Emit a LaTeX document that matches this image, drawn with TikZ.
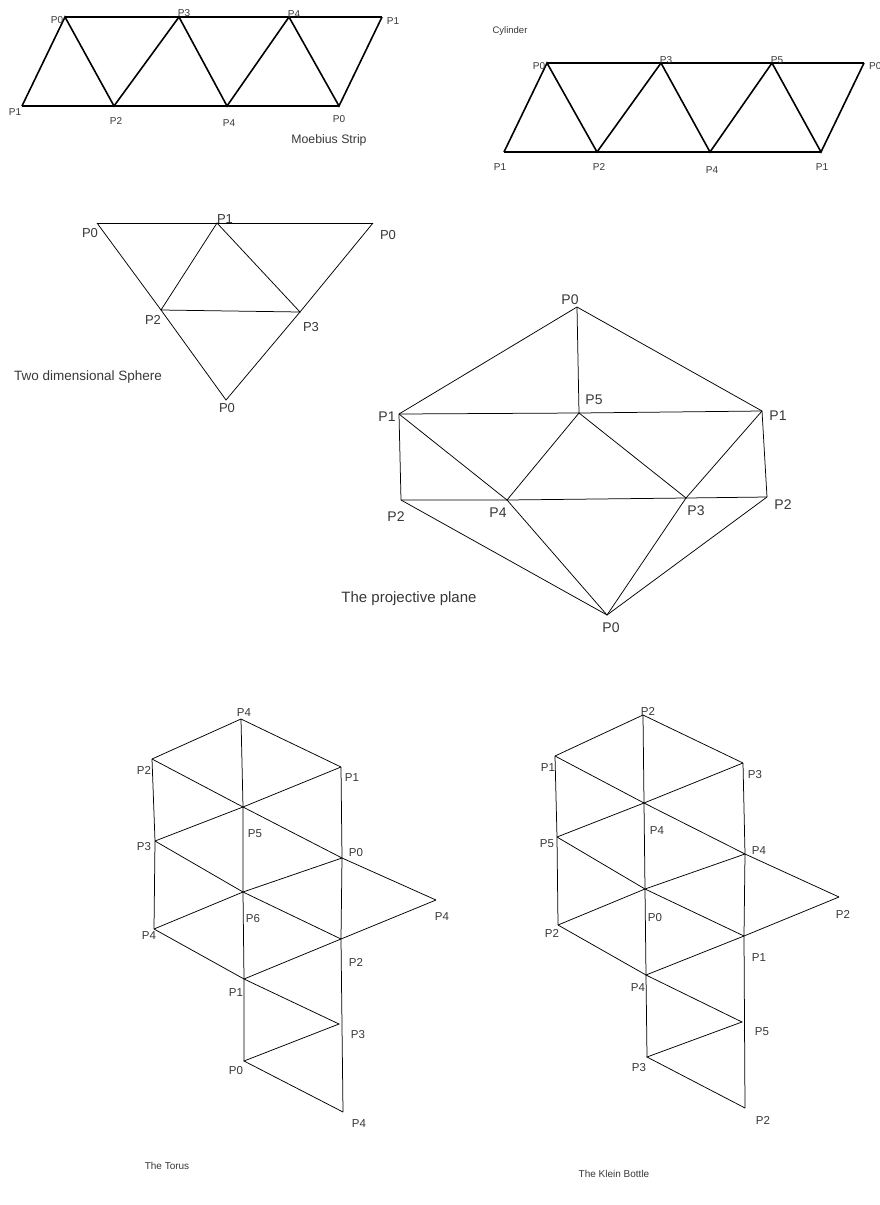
\documentclass[tikz,border=0pt]{standalone}
\usepackage{fontspec}
\setmainfont{Liberation Sans}
\begin{document}
\begin{tikzpicture}[x=1pt,y=-1pt,
  thickedge/.style={line width=1.6pt, line join=miter},
  thinedge/.style={line width=0.75pt},
  lbl/.style={inner sep=0pt, text=black!78},
  fs10/.style={lbl, font=\fontsize{10}{12}\selectfont},
  fs11/.style={lbl, font=\fontsize{11.5}{13}\selectfont},
  fs12/.style={lbl, font=\fontsize{12.3}{14}\selectfont},
  fs13/.style={lbl, font=\fontsize{13}{15}\selectfont},
  fs14/.style={lbl, font=\fontsize{14}{16}\selectfont},
  fs15/.style={lbl, font=\fontsize{15}{17}\selectfont}]
\useasboundingbox (0,0) rectangle (879,1205);
\fill[white] (0,0) rectangle (879,1205);

% ---------------- Moebius strip ----------------
\coordinate (m1) at (22,106);
\coordinate (m0) at (65,17);
\coordinate (m2) at (114,106);
\coordinate (m3) at (179,17);
\coordinate (m4b) at (227,106);
\coordinate (m4t) at (289,17);
\coordinate (m0b) at (339,106);
\coordinate (m1t) at (382,17);
\draw[thickedge] (m0) -- (m1t);
\draw[thickedge] (m1) -- (m0b);
\draw[thickedge] (m1) -- (m0) -- (m2) -- (m3) -- (m4b) -- (m4t) -- (m0b) -- (m1t);
\node[fs10] (lm0) at (57,20) {P0};
\node[fs10] (lm3) at (184,13) {P3};
\node[fs10] (lm4t) at (294,14) {P4};
\node[fs10] (lm1t) at (393,21) {P1};
\node[fs10] (lm1) at (15,112) {P1};
\node[fs10] (lm2) at (116,121) {P2};
\node[fs10] (lm4b) at (229,123) {P4};
\node[fs10] (lm0b) at (339,119) {P0};
\node[fs12] (lmt) at (329,140) {Moebius Strip};

% ---------------- Cylinder ----------------
\coordinate (c0) at (547,63);
\coordinate (c3) at (661,63);
\coordinate (c5) at (772,63);
\coordinate (c0r) at (864,63);
\coordinate (c1) at (504,152);
\coordinate (c2) at (597,152);
\coordinate (c4) at (710,152);
\coordinate (c1r) at (821,152);
\draw[thickedge] (c0) -- (c0r);
\draw[thickedge] (c1) -- (c1r);
\draw[thickedge] (c1) -- (c0) -- (c2) -- (c3) -- (c4) -- (c5) -- (c1r) -- (c0r);
\node[lbl, font=\fontsize{9.5}{11}\selectfont] (lcyl) at (510,31) {Cylinder};
\node[fs10] (lc0) at (539,66) {P0};
\node[fs10] (lc3) at (666,60) {P3};
\node[fs10] (lc5) at (777,60) {P5};
\node[fs10, anchor=west] (lc0r) at (869,66) {P0};
\node[fs10] (lc1) at (500,167) {P1};
\node[fs10] (lc2) at (599,167) {P2};
\node[fs10] (lc4) at (712,170) {P4};
\node[fs10] (lc1r) at (822,167) {P1};

% ---------------- Sphere ----------------
\coordinate (s0l) at (97,223);
\coordinate (s1) at (217,223);
\coordinate (s0r) at (373,223);
\coordinate (s2) at (161,310);
\coordinate (s3) at (300,312);
\coordinate (s0b) at (226,400);
\draw[thinedge] (s0l) -- (s0r);
\draw[thinedge] (s0l) -- (s2) -- (s0b) -- (s3) -- (s0r);
\draw[thinedge] (s2) -- (s1) -- (s3) -- (s2);
\node[fs13] (ls0l) at (90,233) {P0};
\node[fs13] (ls1) at (225,219) {P1};
\node[fs13] (ls0r) at (388,235) {P0};
\node[fs13] (ls2) at (153,320) {P2};
\node[fs13] (ls3) at (311,327) {P3};
\node[fs13] (ls0b) at (227,408) {P0};
\node[lbl, font=\fontsize{13.5}{15}\selectfont] (lsph) at (88,377) {Two dimensional Sphere};

% ---------------- Projective plane ----------------
\coordinate (p0t) at (577,307);
\coordinate (p1l) at (399,414);
\coordinate (p5) at (579,413);
\coordinate (p1r) at (762,411);
\coordinate (p2l) at (401,500);
\coordinate (p4) at (507,500);
\coordinate (p3) at (686,498);
\coordinate (p2r) at (767,497);
\coordinate (p0b) at (607,615);
\draw[thinedge] (p1l) -- (p0t) -- (p1r);
\draw[thinedge] (p0t) -- (p5);
\draw[thinedge] (p1l) -- (p5) -- (p1r);
\draw[thinedge] (p1l) -- (p2l);
\draw[thinedge] (p1r) -- (p2r);
\draw[thinedge] (p1l) -- (p4) -- (p5) -- (p3) -- (p1r);
\draw[thinedge] (p2l) -- (p4) -- (p3) -- (p2r);
\draw[thinedge] (p2l) -- (p0b) -- (p2r);
\draw[thinedge] (p4) -- (p0b) -- (p3);
\node[fs14] (lp0t) at (570,300) {P0};
\node[fs14] (lp5) at (594,400) {P5};
\node[fs14] (lp1l) at (387,417) {P1};
\node[fs14] (lp1r) at (778,416) {P1};
\node[fs14] (lp2l) at (396,517) {P2};
\node[fs14] (lp4) at (498,513) {P4};
\node[fs14] (lp3) at (696,511) {P3};
\node[fs14] (lp2r) at (783,505) {P2};
\node[fs14] (lp0b) at (611,628) {P0};
\node[fs15] (lproj) at (409,599) {The projective plane};

% ---------------- Torus ----------------
\coordinate (t4t) at (241,719);
\coordinate (t2) at (152,759);
\coordinate (t1) at (341,767);
\coordinate (t5) at (243,807);
\coordinate (t3) at (155,841);
\coordinate (t0) at (342,858);
\coordinate (t6) at (243,892);
\coordinate (t4r) at (436,900);
\coordinate (t4l) at (154,929);
\coordinate (t2b) at (341,939);
\coordinate (t1b) at (244,979);
\coordinate (t3b) at (339,1024);
\coordinate (t0b) at (244,1061);
\coordinate (t4b) at (343,1112);
\draw[thinedge] (t2) -- (t4t) -- (t1);
\draw[thinedge] (t4t) -- (t5) -- (t6) -- (t1b) -- (t0b);
\draw[thinedge] (t2) -- (t3) -- (t4l);
\draw[thinedge] (t1) -- (t0) -- (t2b) -- (t4b);
\draw[thinedge] (t2) -- (t5) -- (t0) -- (t4r);
\draw[thinedge] (t3) -- (t5) -- (t1);
\draw[thinedge] (t3) -- (t6) -- (t2b);
\draw[thinedge] (t4l) -- (t6) -- (t0);
\draw[thinedge] (t4l) -- (t1b) -- (t2b) -- (t4r);
\draw[thinedge] (t1b) -- (t3b) -- (t0b) -- (t4b);
\node[fs11] (lt4t) at (244,713) {P4};
\node[fs11] (lt2) at (144,770) {P2};
\node[fs11] (lt1) at (352,778) {P1};
\node[fs11] (lt5) at (255,834) {P5};
\node[fs11] (lt3) at (144,847) {P3};
\node[fs11] (lt0) at (356,853) {P0};
\node[fs11] (lt6) at (253,919) {P6};
\node[fs11] (lt4r) at (442,917) {P4};
\node[fs11] (lt4l) at (149,936) {P4};
\node[fs11] (lt2b) at (356,962) {P2};
\node[fs11] (lt1b) at (236,993) {P1};
\node[fs11] (lt3b) at (358,1035) {P3};
\node[fs11] (lt0b) at (236,1071) {P0};
\node[fs11] (lt4b) at (359,1124) {P4};
\node[fs10] (ltor) at (167,1166) {The Torus};

% ---------------- Klein bottle ----------------
\coordinate (k2t) at (643,715);
\coordinate (k1) at (555,756);
\coordinate (k3) at (743,763);
\coordinate (k4) at (644,803);
\coordinate (k5) at (557,837);
\coordinate (k4r) at (745,854);
\coordinate (k0) at (645,889);
\coordinate (k2r) at (839,897);
\coordinate (k2l) at (558,925);
\coordinate (k1b) at (744,936);
\coordinate (k4b) at (646,975);
\coordinate (k5b) at (742,1022);
\coordinate (k3b) at (647,1057);
\coordinate (k2b) at (745,1108);
\draw[thinedge] (k1) -- (k2t) -- (k3);
\draw[thinedge] (k2t) -- (k4) -- (k0) -- (k4b) -- (k3b);
\draw[thinedge] (k1) -- (k5) -- (k2l);
\draw[thinedge] (k3) -- (k4r) -- (k1b) -- (k2b);
\draw[thinedge] (k1) -- (k4) -- (k4r) -- (k2r);
\draw[thinedge] (k5) -- (k4) -- (k3);
\draw[thinedge] (k5) -- (k0) -- (k1b);
\draw[thinedge] (k2l) -- (k0) -- (k4r);
\draw[thinedge] (k2l) -- (k4b) -- (k1b) -- (k2r);
\draw[thinedge] (k4b) -- (k5b) -- (k3b) -- (k2b);
\node[fs11] (lk2t) at (648,711) {P2};
\node[fs11] (lk1) at (548,768) {P1};
\node[fs11] (lk3) at (755,775) {P3};
\node[fs11] (lk4) at (657,831) {P4};
\node[fs11] (lk5) at (547,844) {P5};
\node[fs11] (lk4r) at (759,851) {P4};
\node[fs11] (lk0) at (655,918) {P0};
\node[fs11] (lk2r) at (843,914) {P2};
\node[fs11] (lk2l) at (552,933) {P2};
\node[fs11] (lk1b) at (759,958) {P1};
\node[fs11] (lk4b) at (638,988) {P4};
\node[fs11] (lk5b) at (762,1032) {P5};
\node[fs11] (lk3b) at (639,1068) {P3};
\node[fs11] (lk2b) at (763,1120) {P2};
\begin{scope}
\clip (540,1150) rectangle (700,1177);
\node[fs10] (lkb) at (614,1174) {The Klein Bottle};
\end{scope}
\end{tikzpicture}
\end{document}
